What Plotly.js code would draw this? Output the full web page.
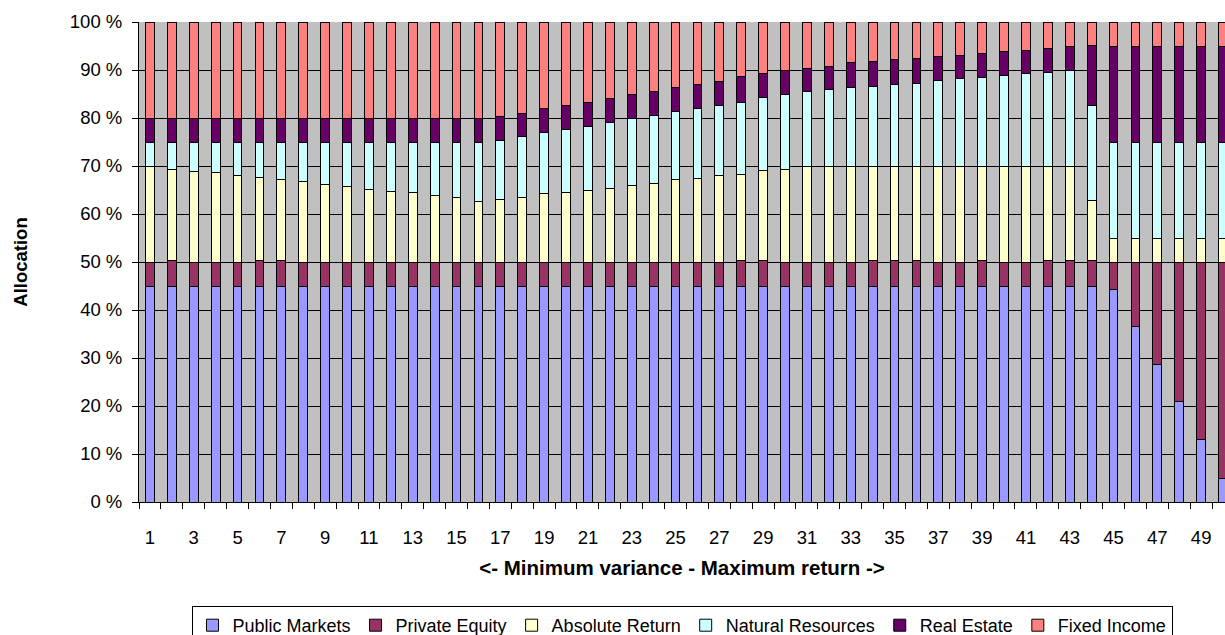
<!DOCTYPE html>
<html>
<head>
<meta charset="utf-8">
<script src="https://cdn.plot.ly/plotly-3.0.1.min.js"></script>
<style>
html,body{margin:0;padding:0;background:#fff;overflow:hidden;}
#chart{width:1225px;height:645px;}
</style>
</head>
<body>
<div id="chart"></div>
<script>
const portfolios = [1,2,3,4,5,6,7,8,9,10,11,12,13,14,15,16,17,18,19,20,21,22,23,24,25,26,27,28,29,30,31,32,33,34,35,36,37,38,39,40,41,42,43,44,45,46,47,48,49,50];
const tickLabels = [1,3,5,7,9,11,13,15,17,19,21,23,25,27,29,31,33,35,37,39,41,43,45,47,49];
const yTickValues = [0,10,20,30,40,50,60,70,80,90,100];
const yTickLabels = ["0 %","10 %","20 %","30 %","40 %","50 %","60 %","70 %","80 %","90 %","100 %"];

const publicMarkets = [45,45,45,45,45,45,45,45,45,45,45,45,45,45,45,45,45,45,45,45,45,45,45,45,45,45,45,45,45,45,45,45,45,45,45,45,45,45,45,45,45,45,45,45,44.2,36.5,28.7,20.9,13.1,4.9];
const privateEquity = [5,5.3,5,5,5,5.3,5.3,5,5,5,5,5,5,5,5,5,5,5,5,5,5,5,5,5,5,5,5,5.3,5.3,5,5,5,5,5.3,5.3,5.3,5,5,5.3,5,5,5.3,5.3,5.3,5.8,13.5,21.3,29.1,36.9,45.1];
const absoluteReturn = [20.0,19.0,18.9,18.6,18.0,17.3,16.8,16.7,16.1,15.7,15.1,14.7,14.4,13.8,13.4,12.7,13.1,13.4,14.2,14.4,15.0,15.3,16.0,16.4,17.1,17.4,18.0,18.0,18.7,19.3,20,20,20,19.7,19.7,19.7,20,20,19.7,20,20,19.7,19.7,12.5,5,5,5,5,5,5];
const naturalResources = [5.0,5.7,6.1,6.4,7.0,7.4,7.9,8.3,8.9,9.3,9.9,10.3,10.6,11.2,11.6,12.3,12.3,12.7,12.8,13.3,13.3,13.7,13.9,14.2,14.2,14.5,14.6,15.0,15.3,15.6,15.6,15.9,16.3,16.5,16.9,17.2,17.9,18.2,18.5,18.8,19.2,19.5,19.9,19.8,20,20,20,20,20,20];
const realEstate = [5,5,5,5,5,5,5,5,5,5,5,5,5,5,5,5,5.0,4.9,5.0,5.0,5.0,5.0,5.0,5.0,5.0,5.0,5.0,5.3,4.9,4.9,4.8,4.9,5.2,5.3,5.3,5.2,4.9,4.9,5.0,5.0,4.9,4.9,4.9,12.5,20,20,20,20,20,20];
const fixedIncome = [20,20,20,20,20,20,20,20,20,20,20,20,20,20,20,20,19.6,19.0,18.0,17.3,16.7,16.0,15.1,14.4,13.7,13.1,12.4,11.4,10.8,10.2,9.6,9.2,8.5,8.2,7.8,7.6,7.2,6.9,6.5,6.2,5.9,5.6,5.2,4.9,5,5,5,5,5,5];

const seriesNames = ["Public Markets","Private Equity","Absolute Return","Natural Resources","Real Estate","Fixed Income"];
const seriesValues = [publicMarkets, privateEquity, absoluteReturn, naturalResources, realEstate, fixedIncome];
const seriesColors = ["#9999FF","#993366","#FFFFCC","#CCFFFF","#660066","#FF8080"];

const FONT = "Liberation Sans, Arial, sans-serif";

const traces = seriesNames.map((name, i) => ({
  type: "bar",
  name: name,
  x: portfolios,
  y: seriesValues[i],
  width: 0.4,
  marker: {color: seriesColors[i], line: {color: "#000000", width: 1}},
  hoverinfo: "skip"
}));

const layout = {
  width: 1225,
  height: 645,
  margin: {l: 139, r: 0, t: 22, b: 143},
  paper_bgcolor: "#ffffff",
  plot_bgcolor: "#C0C0C0",
  barmode: "stack",
  font: {family: FONT, size: 18.5, color: "#000000"},
  showlegend: true,
  legend: {
    orientation: "h",
    x: 0.5, xanchor: "center",
    y: -0.2167, yanchor: "top",
    bgcolor: "#ffffff",
    bordercolor: "#000000",
    borderwidth: 1,
    traceorder: "normal",
    font: {family: FONT, size: 18, color: "#000000"},
    itemwidth: 30
  },
  xaxis: {
    range: [0.5, 50.09],
    tickmode: "array",
    tickvals: tickLabels,
    ticktext: tickLabels.map(String),
    ticks: "",
    ticklabelstandoff: 19,
    tickfont: {family: FONT, size: 18.5, color: "#000000"},
    showgrid: false,
    zeroline: false,
    showline: true,
    linecolor: "#000000",
    linewidth: 1,
    minor: {
      tick0: 0.5, dtick: 1,
      ticks: "outside", ticklen: 6, tickcolor: "#000000", tickwidth: 1,
      showgrid: false
    },
    title: {
      text: "<b><- Minimum variance - Maximum return -></b>",
      font: {family: FONT, size: 20.5, color: "#000000"},
      standoff: 13
    },
    fixedrange: true
  },
  yaxis: {
    range: [0, 100],
    tickmode: "array",
    tickvals: yTickValues,
    ticktext: yTickLabels,
    ticks: "outside",
    ticklen: 6,
    tickcolor: "#000000",
    tickfont: {family: FONT, size: 18.5, color: "#000000"},
    ticklabelstandoff: 6,
    showgrid: true,
    gridcolor: "#000000",
    gridwidth: 1,
    zeroline: false,
    showline: true,
    linecolor: "#000000",
    linewidth: 1,
    title: {
      text: "<b>Allocation</b>",
      font: {family: FONT, size: 18.5, color: "#000000"},
      standoff: 37
    },
    fixedrange: true
  }
};

Plotly.newPlot("chart", traces, layout, {staticPlot: true, displayModeBar: false});
</script>
</body>
</html>
